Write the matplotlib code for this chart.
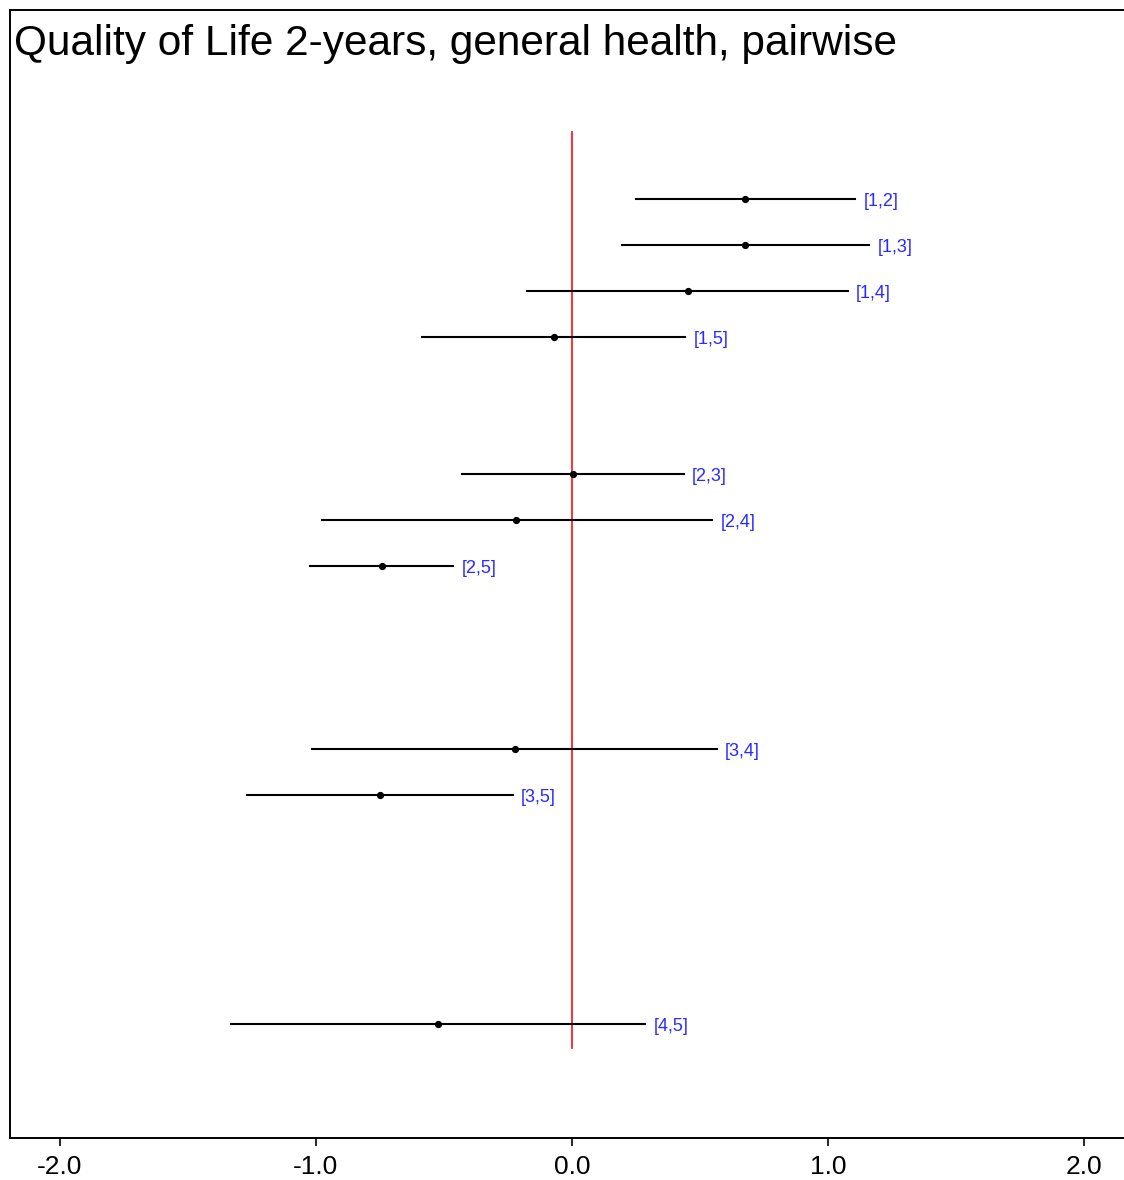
import matplotlib

matplotlib.use("Agg")

import matplotlib.pyplot as plt

plt.rcParams["font.family"] = ["Liberation Sans", "DejaVu Sans"]

# pairwise comparisons: group pair, estimate, lower and upper bound
pair_i = [1, 1, 1, 1, 2, 2, 2, 3, 3, 4]
pair_j = [2, 3, 4, 5, 3, 4, 5, 4, 5, 5]
estimate = [0.676, 0.674, 0.452, -0.070, 0.003, -0.219, -0.742, -0.221, -0.750, -0.523]
lower = [0.250, 0.196, -0.176, -0.586, -0.430, -0.975, -1.025, -1.014, -1.268, -1.332]
upper = [1.105, 1.161, 1.077, 0.443, 0.436, 0.547, -0.465, 0.565, -0.232, 0.285]
labels = [f"[{i},{j}]" for i, j in zip(pair_i, pair_j)]

n_groups = 5
xticks = [-2.0, -1.0, 0.0, 1.0, 2.0]

fig = plt.figure(figsize=(11.24, 11.8), dpi=100)
W, H = 1124, 1180
ax = fig.add_axes([10 / W, 1 - 1138 / H, 1124 / W, 1128 / H])

# each first group gets a block of (n_groups + 1) slots
slots = [(n_groups + 1) * (i - 1) + (j - i - 1) for i, j in zip(pair_i, pair_j)]

# red reference line spans the rows only
ax.plot([0, 0], [-1.46, 18.54], color="#ff2020", lw=1.3, zorder=1)
for y, est, lo, hi, lab in zip(slots, estimate, lower, upper, labels):
    ax.plot([lo, hi], [y, y], color="black", lw=1.5, zorder=2)
    ax.plot(est, y, "o", color="black", ms=4.2, zorder=3)
    ax.annotate(lab, (hi, y), xytext=(6, -2), textcoords="offset points",
                ha="left", va="center", fontsize=13, color="#2a2aff")

ax.set_xlim(-2.195, 2.195)
ax.set_ylim(20.5, -4.13)

ax.set_xticks(xticks)
ax.set_xticklabels([f"{t:.1f}" for t in xticks], fontsize=19)
ax.tick_params(axis="x", direction="out", length=6, width=1.2, pad=6)
ax.set_yticks([])
for side in ("left", "top", "bottom"):
    ax.spines[side].set_linewidth(1.4)
ax.spines["right"].set_visible(False)

ax.text(0.004, 0.988, "Quality of Life 2-years, general health, pairwise",
        transform=ax.transAxes, ha="left", va="top", fontsize=30.5)

fig.savefig("out.png", dpi=100)
